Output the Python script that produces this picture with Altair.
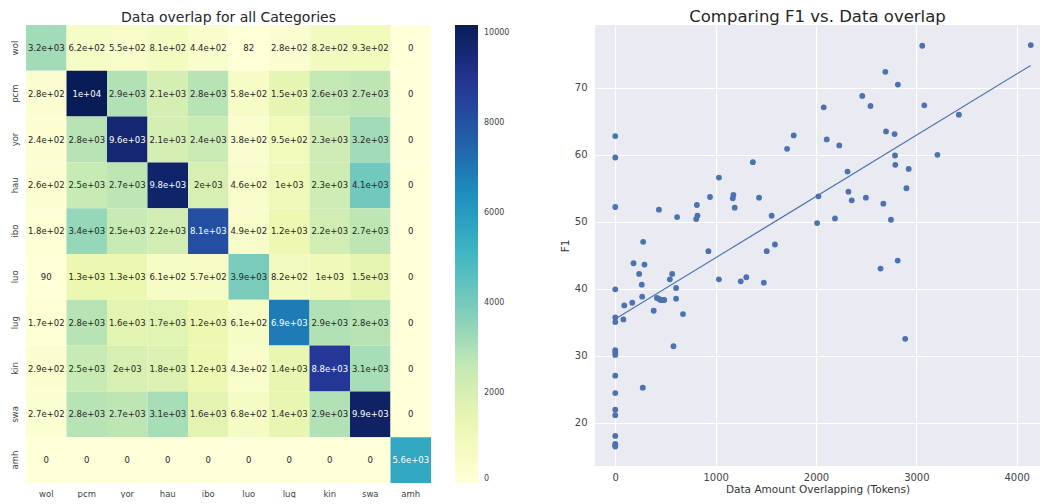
import altair as alt
import pandas as pd

cats = ["wol", "pcm", "yor", "hau", "ibo", "luo", "lug", "kin", "swa", "amh"]
overlap = [
    [3200, 620, 550, 810, 440, 82, 280, 820, 930, 0],
    [280, 10170, 2900, 2100, 2800, 580, 1500, 2600, 2700, 0],
    [240, 2800, 9600, 2100, 2400, 380, 950, 2300, 3200, 0],
    [260, 2500, 2700, 9800, 2000, 460, 1000, 2300, 4100, 0],
    [180, 3400, 2500, 2200, 8100, 490, 1200, 2200, 2700, 0],
    [90, 1300, 1300, 610, 570, 3900, 820, 1000, 1500, 0],
    [170, 2800, 1600, 1700, 1200, 610, 6900, 2900, 2800, 0],
    [290, 2500, 2000, 1800, 1200, 430, 1400, 8800, 3100, 0],
    [270, 2800, 2700, 3100, 1600, 680, 1400, 2900, 9900, 0],
    [0, 0, 0, 0, 0, 0, 0, 0, 0, 5600],
]
ylgnbu = ["#ffffd9", "#edf8b1", "#c7e9b4", "#7fcdbb", "#41b6c4",
          "#1d91c0", "#225ea8", "#253494", "#081d58"]

tokens = [0, 0, 0, 278, 435, 616, 813, 819, 806, 928, 944, 1033, 1171, 1177, 1190,
          1371, 1433, 1509, 1558, 1591, 1712, 1778, 2011, 2024, 2077, 2107, 2189,
          2232, 2314, 2323, 2356, 2461, 2497, 2543, 2671, 2691, 2698, 2747, 2783,
          2787, 2790, 2816, 2901, 2924, 3059, 3079, 3210, 3424, 4140,
          182, 291, 238, 264, 0, 544, 567, 606, 268, 90, 169, 415, 432, 452, 471,
          488, 606, 383, 675, 0, 81, 0, 580, 0, 0, 0, 0, 274, 0, 0, 0, 0, 0, 0, 0,
          1033, 1250, 1306, 1480, 2643, 2814, 2889]
f1 = [62.8, 59.6, 52.2, 47.0, 51.8, 50.7, 52.5, 50.9, 50.4, 45.6, 53.7, 56.6, 53.5,
      54.0, 52.1, 58.9, 53.6, 45.6, 50.9, 46.6, 60.9, 62.9, 49.8, 53.8, 67.1, 62.3,
      50.5, 61.4, 57.5, 54.5, 53.2, 68.8, 53.6, 67.3, 52.7, 72.4, 63.5, 50.3, 63.1,
      59.9, 58.5, 70.5, 55.0, 57.9, 76.3, 67.4, 60.0, 66.0, 76.4,
      43.8, 43.6, 42.2, 40.6, 39.9, 41.4, 42.2, 40.1, 38.8, 37.5, 37.9, 38.6, 38.5,
      38.3, 38.3, 38.3, 38.5, 36.7, 36.2, 35.7, 35.4, 35.0, 31.4, 30.8, 30.5, 30.1,
      27.0, 25.2, 24.4, 21.9, 21.1, 18.0, 16.8, 16.6, 16.4,
      41.4, 41.1, 41.7, 40.9, 43.0, 44.2, 32.5]

rows = []
for i, r in enumerate(cats):
    for j, c in enumerate(cats):
        v = overlap[i][j]
        rows.append({"row": r, "col": c, "v": v, "label": format(v, ".2g")})
hm = pd.DataFrame(rows)

vmax = max(max(r) for r in overlap)
stops = [vmax * k / (len(ylgnbu) - 1) for k in range(len(ylgnbu))]

TXT = "#262626"

base = alt.Chart(hm).encode(
    x=alt.X("col:N", sort=cats, title=None,
            axis=alt.Axis(labelAngle=0, ticks=False, domain=False, labelFontSize=8.5,
                          labelColor="#444444", labelPadding=6)),
    y=alt.Y("row:N", sort=cats, title=None,
            axis=alt.Axis(labelAngle=270, ticks=False, domain=False, labelFontSize=8.5,
                          labelColor="#444444", labelPadding=7, labelAlign="center",
                          labelBaseline="bottom")),
)
rects = base.mark_rect().encode(
    color=alt.Color("v:Q", title=None,
                    scale=alt.Scale(domain=stops, range=ylgnbu, interpolate="rgb"),
                    legend=alt.Legend(orient="right", offset=24, gradientLength=458,
                                      gradientThickness=23, padding=0,
                                      values=[0, 2000, 4000, 6000, 8000, 10000],
                                      format="d",
                                      labelFontSize=8, labelColor="#444444",
                                      labelOverlap=False, labelOffset=6,
                                      gradientStrokeWidth=0))
)
texts = base.mark_text(fontSize=8.5).encode(
    text="label:N",
    color=alt.condition("datum.v > 5000", alt.value("white"), alt.value(TXT)),
)
heat = (rects + texts).properties(
    width=405, height=458,
    title=alt.TitleParams("Data overlap for all Categories", fontSize=14,
                          fontWeight="normal", color=TXT, offset=0),
    view=alt.ViewBackground(strokeWidth=0),
)

sc = pd.DataFrame({"tokens": tokens, "f1": f1})
BLUE = "#4C72B0"
xs = alt.X("tokens:Q", title="Data Amount Overlapping (Tokens)",
           scale=alt.Scale(domain=[-202, 4232], nice=False, zero=False),
           axis=alt.Axis(values=[0, 1000, 2000, 3000, 4000], format="d", grid=True,
                         gridColor="white",
                         gridWidth=1.2, ticks=False, domain=False, labelFontSize=10,
                         labelColor="#444444", titleFontSize=10.5, titleFontWeight="normal",
                         titleColor="#333333", labelPadding=6, titlePadding=2))
ys = alt.Y("f1:Q", title="F1",
           scale=alt.Scale(domain=[13.5, 79.4], nice=False, zero=False),
           axis=alt.Axis(values=[20, 30, 40, 50, 60, 70], grid=True, gridColor="white",
                         gridWidth=1.2, ticks=False, domain=False, labelFontSize=10,
                         labelColor="#444444", titleFontSize=10.5, titleFontWeight="normal",
                         titleColor="#333333", labelPadding=8, titlePadding=4))
pts = alt.Chart(sc).mark_circle(size=34, opacity=1, color=BLUE).encode(x=xs, y=ys)
line = alt.Chart(sc).transform_regression("tokens", "f1").mark_line(
    color=BLUE, strokeWidth=1.1).encode(x="tokens:Q", y="f1:Q")
scatter = (pts + line).properties(
    width=445, height=441,
    title=alt.TitleParams("Comparing F1 vs. Data overlap", fontSize=16.5,
                          fontWeight="normal", color=TXT, offset=0),
    view=alt.ViewBackground(fill="#EAEAF2", strokeWidth=0),
)

chart = (
    alt.hconcat(heat, scatter, spacing=50)
    .resolve_scale(color="independent")
    .resolve_legend(color="independent")
    .properties(padding={"left": 1, "top": 0, "right": 0, "bottom": 0})
    .configure(font="DejaVu Sans")
)
chart.save("out.html", embed_options={"renderer": "svg", "actions": False})
